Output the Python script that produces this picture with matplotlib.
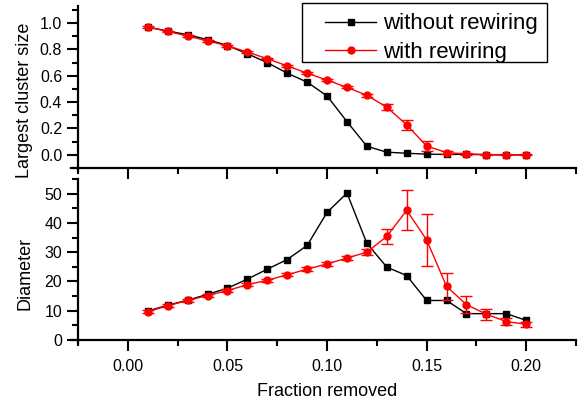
import numpy as np
import matplotlib.pyplot as plt
from matplotlib.ticker import MultipleLocator
from matplotlib.lines import Line2D
from matplotlib.patches import Rectangle

plt.rcParams['font.family'] = ['Liberation Sans', 'DejaVu Sans']

# data
frac = [0.01, 0.02, 0.03, 0.04, 0.05, 0.06, 0.07, 0.08, 0.09, 0.10,
        0.11, 0.12, 0.13, 0.14, 0.15, 0.16, 0.17, 0.18, 0.19, 0.20]
xticks = [0.00, 0.05, 0.10, 0.15, 0.20]
xticklabels = ['0.00', '0.05', '0.10', '0.15', '0.20']

size_no = [0.97, 0.94, 0.912, 0.875, 0.83, 0.767, 0.70, 0.62, 0.552, 0.447,
           0.252, 0.065, 0.02, 0.012, 0.005, 0.003, 0.004, 0.0, 0.0, 0.0]
size_rw = [0.97, 0.937, 0.902, 0.865, 0.828, 0.78, 0.73, 0.675, 0.62, 0.567,
           0.512, 0.452, 0.362, 0.227, 0.067, 0.017, 0.007, 0.002, 0.0, 0.0]
size_rw_err = [0.006, 0.006, 0.006, 0.006, 0.006, 0.006, 0.006, 0.006, 0.008, 0.008,
               0.008, 0.012, 0.022, 0.035, 0.035, 0.01, 0.006, 0.004, 0.003, 0.003]

diam_no = [9.9, 11.9, 13.6, 15.6, 17.7, 20.8, 24.2, 27.5, 32.3, 43.6,
           50.2, 33.0, 24.9, 22.0, 13.5, 13.5, 9.0, 9.0, 9.0, 6.7]
diam_rw = [9.7, 11.7, 13.5, 15.2, 16.9, 18.9, 20.4, 22.3, 24.2, 26.0,
           28.0, 30.0, 35.4, 44.3, 34.2, 18.3, 12.1, 8.8, 6.3, 5.4]
diam_rw_err = [0.5, 0.5, 0.5, 0.5, 0.5, 0.5, 0.5, 0.5, 0.6, 0.6,
               0.7, 1.0, 2.5, 6.8, 8.8, 4.5, 3.0, 1.8, 1.2, 0.8]

labels = ['without rewiring', 'with rewiring']
red = '#ff0000'
xlim = (-0.025, 0.225)

fig = plt.figure(figsize=(5.83, 4.0), dpi=100)
ax1 = fig.add_axes([0.134, 0.58, 0.854, 0.405])
ax2 = fig.add_axes([0.134, 0.15, 0.854, 0.4025])

def style(ax, ylim):
    for s in ['top', 'right']:
        ax.spines[s].set_visible(False)
    for s in ['left', 'bottom']:
        ax.spines[s].set_linewidth(1.6)
    ax.tick_params(which='major', direction='out', length=8, width=1.5, labelsize=11.5)
    ax.tick_params(which='minor', direction='out', length=4, width=1.5)
    ax.tick_params(axis='x', pad=6)
    ax.set_xlim(*xlim)
    ax.set_ylim(*ylim)
    ax.xaxis.set_major_locator(MultipleLocator(0.05))
    ax.xaxis.set_minor_locator(MultipleLocator(0.025))
    # origin-style crossing spines at the corner
    dx = (xlim[1] - xlim[0]) * 0.014
    dy = (ylim[1] - ylim[0]) * 0.02
    ax.spines['bottom'].set_bounds(xlim[0] - dx, xlim[1])
    ax.spines['left'].set_bounds(ylim[0] - dy, ylim[1])

# top panel: largest cluster size
style(ax1, (-0.1, 1.13))
ax1.plot(frac, size_no, '-s', color='black', lw=1, ms=4.5)
ax1.errorbar(frac, size_rw, yerr=size_rw_err, fmt='-o', color=red, lw=1, ms=5,
             capsize=4.5, elinewidth=1, capthick=1)
ax1.set_yticks([0.0, 0.2, 0.4, 0.6, 0.8, 1.0])
ax1.yaxis.set_minor_locator(MultipleLocator(0.1))
ax1.tick_params(labelbottom=False)
ax1.set_ylabel('Largest cluster size', fontsize=13)
ax1.yaxis.set_label_coords(-0.09, 0.415)

handles = [Line2D([], [], color='black', marker='s', lw=1, ms=4.5),
           Line2D([], [], color=red, marker='o', lw=1, ms=5)]
leg = ax1.legend(handles, labels, loc='upper left', bbox_to_anchor=(0.496, 0.955),
                 fontsize=16, frameon=False, handlelength=2.3, handletextpad=0.3,
                 borderpad=0, labelspacing=0.35, borderaxespad=0)
ax1.add_patch(Rectangle((0.45, 0.654), 0.492, 0.3645, transform=ax1.transAxes,
                        fill=False, edgecolor='black', lw=1.0, clip_on=False))

# bottom panel: diameter
style(ax2, (0, 55))
ax2.plot(frac, diam_no, '-s', color='black', lw=1, ms=4.5)
ax2.errorbar(frac, diam_rw, yerr=diam_rw_err, fmt='-o', color=red, lw=1, ms=5,
             capsize=4.5, elinewidth=1, capthick=1)
ax2.yaxis.set_major_locator(MultipleLocator(10))
ax2.yaxis.set_minor_locator(MultipleLocator(5))
ax2.set_xticks(xticks)
ax2.set_xticklabels(xticklabels)
ax2.set_xlim(*xlim)
ax2.set_ylabel('Diameter', fontsize=13)
ax2.yaxis.set_label_coords(-0.09, 0.416)
ax2.set_xlabel('Fraction removed', fontsize=13, labelpad=6)

plt.savefig('out.png', dpi=100)
